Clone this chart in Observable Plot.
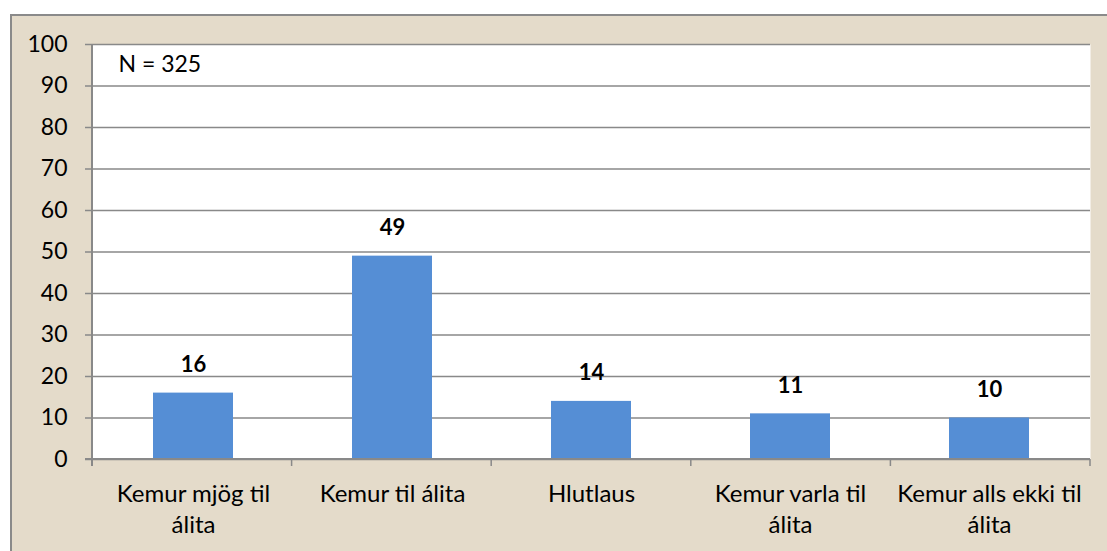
<!DOCTYPE html>
<html>
<head>
<meta charset="utf-8">
<script src="https://cdn.jsdelivr.net/npm/d3@7"></script>
<script src="https://cdn.jsdelivr.net/npm/@observablehq/plot@0.6"></script>
<style>
  html, body { margin: 0; padding: 0; background: #ffffff; }
  #wrap { position: relative; width: 1107px; height: 551px; overflow: hidden; background: #ffffff; }
  #panel { position: absolute; left: 10px; top: 14px; width: 1110px; height: 560px;
           background: #e4dbca; border-left: 2px solid #8a8a8a; border-top: 2px solid #8a8a8a; }
  #chart { position: absolute; left: 0; top: 0; }
  #chart svg { background: transparent !important; }
</style>
</head>
<body>
<div id="wrap"><div id="panel"></div><div id="chart"></div></div>
<script>
const categories = ["Kemur mjög til álita", "Kemur til álita", "Hlutlaus", "Kemur varla til álita", "Kemur alls ekki til álita"];
const values = [16, 49, 14, 11, 10];
const tickLabels = ["Kemur mjög til\nálita", "Kemur til álita", "Hlutlaus", "Kemur varla til\nálita", "Kemur alls ekki til\nálita"];
const yTicks = [0, 10, 20, 30, 40, 50, 60, 70, 80, 90, 100];
const note = "N = 325";

const data = categories.map((c, i) => ({cat: c, value: values[i]}));
const gray = "#898989";

function axisLines(index, scales, vals, dims) {
  const y = scales.y;
  const x0 = dims.marginLeft, x1 = dims.width - dims.marginRight;
  const y0 = y(0), yTop = y(100);
  const n = categories.length;
  const step = (x1 - x0) / n;
  const g = d3.create("svg:g").attr("stroke", gray).attr("fill", "none");
  g.append("line").attr("x1", x0).attr("x2", x0).attr("y1", yTop).attr("y2", y0 + 7).attr("stroke-width", 2);
  g.append("line").attr("x1", x0 - 7).attr("x2", x1).attr("y1", y0).attr("y2", y0).attr("stroke-width", 2);
  for (let k = 0; k <= n; k++) {
    const xx = x0 + k * step;
    g.append("line").attr("x1", xx).attr("x2", xx).attr("y1", y0).attr("y2", y0 + 7).attr("stroke-width", 1.5);
  }
  return g.node();
}

const chart = Plot.plot({
  width: 1107,
  height: 551,
  marginLeft: 92,
  marginRight: 17,
  marginTop: 44,
  marginBottom: 92,
  style: {fontFamily: "Lato, 'Open Sans', sans-serif", background: "transparent", color: "black"},
  x: {domain: categories, paddingInner: 0.6, paddingOuter: 0.3, label: null},
  y: {domain: [0, 100], label: null},
  marks: [
    Plot.frame({fill: "white", stroke: "none"}),
    Plot.gridY(yTicks, {stroke: gray, strokeOpacity: 1, strokeWidth: 1.5}),
    Plot.barY(data, {x: "cat", y: "value", fill: "#558ed5"}),
    Plot.text(data, {x: "cat", y: "value", text: d => String(d.value), dy: -28, fontSize: 22, fontWeight: "bold", fill: "black"}),
    Plot.axisY({ticks: yTicks, tickSize: 7, tickPadding: 18, fontSize: 23, stroke: gray, fill: "black", strokeWidth: 1.5}),
    Plot.axisX({tickSize: 0, tickPadding: 20, fontSize: 24, lineHeight: 1.3, fill: "black", tickFormat: d => tickLabels[categories.indexOf(d)]}),
    Plot.text([note], {frameAnchor: "top-left", dx: 26, dy: 11, fontSize: 23, fill: "black"}),
    axisLines
  ]
});
document.getElementById("chart").appendChild(chart);
</script>
</body>
</html>
